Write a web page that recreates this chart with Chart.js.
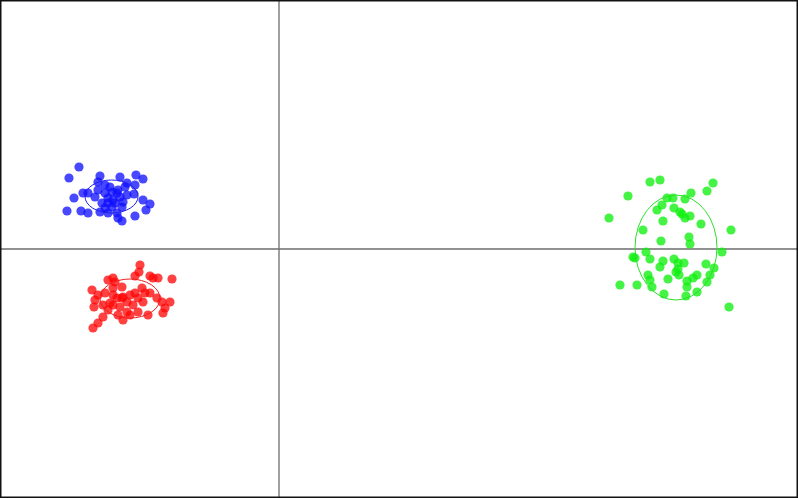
<!DOCTYPE html>
<html>
<head>
<meta charset="utf-8">
<script src="https://cdn.jsdelivr.net/npm/chart.js@4"></script>
<style>
  body { margin: 0; background: #fff; }
  canvas { display: block; }
</style>
</head>
<body>
<canvas id="scatter" width="798" height="498"></canvas>
<script>
// -------------------- DATA --------------------

// axis ranges (the origin sits where the two grey lines cross)
const xRange = [-279, 519];
const yRange = [-249, 249];

// blue group
const blueX = [-200, -210, -179, -159, -143, -136, -152, -154, -144, -191, -196, -205, -212, -198, -191,
  -179, -171, -162, -161, -157, -144, -136, -129, -133, -145, -181, -174, -167, -162, -171,
  -166, -159, -156, -177, -167, -157, -184, -174, -152, -161, -181, -174, -169, -164, -171];
const blueY = [82, 71, 73, 72, 74, 70, 66, 62, 64, 56, 56, 51, 38, 38, 36,
  37, 36, 36, 31, 28, 33, 49, 45, 39, 55, 59, 56, 57, 56, 51,
  49, 52, 47, 46, 42, 42, 52, 41, 54, 59, 67, 64, 62, 46, 46];

// red group
const redX = [-139, -140, -144, -166, -171, -129, -126, -121, -107, -187, -181, -174, -166, -157, -184,
  -185, -176, -169, -162, -156, -149, -144, -137, -134, -129, -122, -117, -109, -114, -116,
  -136, -146, -152, -159, -166, -171, -161, -152, -149, -141, -131, -156, -176, -181, -186,
  -157, -166, -141, -164];
const redY = [-16, -23, -27, -29, -31, -27, -29, -29, -30, -41, -46, -44, -39, -38, -51,
  -58, -56, -54, -49, -48, -46, -44, -39, -44, -44, -49, -53, -53, -59, -64,
  -53, -56, -53, -58, -56, -61, -66, -63, -66, -63, -66, -71, -68, -74, -79,
  -49, -46, -49, -33];

// green group
const greenX = [371, 381, 434, 428, 349, 388, 394, 406, 412, 383, 378, 395, 401, 403, 406,
  411, 330, 384, 422, 452, 364, 382, 410, 411, 367, 443, 354, 356, 371, 384,
  395, 399, 405, 381, 399, 397, 400, 427, 435, 431, 369, 371, 341, 358, 373,
  389, 408, 414, 418, 428, 408, 407, 385, 418, 450];
const greenY = [67, 69, 66, 58, 53, 51, 51, 50, 56, 44, 39, 41, 37, 35, 31,
  33, 31, 28, 25, 19, 19, 8, 12, 5, -3, -3, -8, -9, -10, -12,
  -10, -14, -14, -18, -20, -23, -26, -15, -19, -26, -26, -31, -36, -36, -38,
  -30, -32, -29, -26, -33, -38, -47, -45, -43, -58];

// ellipses: [centerX, centerY, radiusX, radiusY]
const blueEllipse = [-167.5, 52.5, 26.5, 16.5];
const redEllipse = [-149, -49.5, 30, 19.5];
const greenEllipse = [397, 1.5, 41, 52.5];

// -------------------- HELPERS --------------------

function toPoints(xs, ys) {
  return xs.map((x, i) => ({ x: x, y: ys[i] }));
}

const groups = [
  { x: blueX, y: blueY, ell: blueEllipse, fill: "rgba(15, 15, 255, 0.76)", line: "rgb(30, 30, 240)" },
  { x: redX, y: redY, ell: redEllipse, fill: "rgba(255, 5, 5, 0.76)", line: "rgb(240, 30, 30)" },
  { x: greenX, y: greenY, ell: greenEllipse, fill: "rgba(15, 240, 15, 0.78)", line: "rgb(40, 225, 40)" },
];

// draws frame, zero lines and ellipses
const overlay = {
  id: "overlay",
  beforeDatasetsDraw(chart) {
    const c = chart.ctx;
    const xs = chart.scales.x;
    const ys = chart.scales.y;
    const x0 = xs.getPixelForValue(0);
    const y0 = ys.getPixelForValue(0);
    c.save();
    c.strokeStyle = "#6e6e6e";
    c.lineWidth = 1.3;
    c.beginPath();
    c.moveTo(x0, 0);
    c.lineTo(x0, chart.height);
    c.moveTo(0, y0);
    c.lineTo(chart.width, y0);
    c.stroke();
    c.restore();
  },
  afterDatasetsDraw(chart) {
    const c = chart.ctx;
    const xs = chart.scales.x;
    const ys = chart.scales.y;
    c.save();
    groups.forEach((g) => {
      const [cx, cy, rx, ry] = g.ell;
      const px = xs.getPixelForValue(cx);
      const py = ys.getPixelForValue(cy);
      const prx = Math.abs(xs.getPixelForValue(cx + rx) - px);
      const pry = Math.abs(ys.getPixelForValue(cy + ry) - py);
      c.strokeStyle = g.line;
      c.lineWidth = 1;
      c.beginPath();
      c.ellipse(px, py, prx, pry, 0, 0, Math.PI * 2);
      c.stroke();
    });
    // outer frame
    c.strokeStyle = "#111";
    c.lineWidth = 1.5;
    c.strokeRect(0.75, 0.75, chart.width - 1.5, chart.height - 1.5);
    c.restore();
  },
};

// -------------------- CHART --------------------

new Chart(document.getElementById("scatter"), {
  type: "scatter",
  data: {
    datasets: groups.map((g) => ({
      data: toPoints(g.x, g.y),
      backgroundColor: g.fill,
      borderWidth: 0,
      pointRadius: 4.6,
      pointHoverRadius: 4.6,
    })),
  },
  options: {
    responsive: false,
    animation: false,
    events: [],
    layout: { padding: 0, autoPadding: false },
    plugins: { legend: { display: false }, tooltip: { enabled: false } },
    scales: {
      x: { type: "linear", min: xRange[0], max: xRange[1], display: false },
      y: { type: "linear", min: yRange[0], max: yRange[1], display: false },
    },
  },
  plugins: [overlay],
});
</script>
</body>
</html>
